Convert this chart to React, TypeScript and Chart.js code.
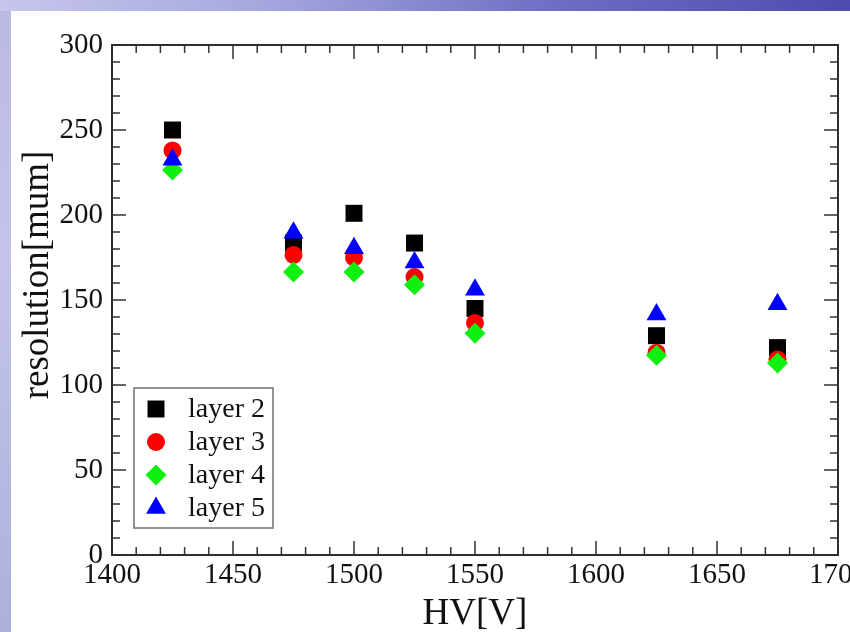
import React, { useEffect, useRef } from "react";
import { Chart, registerables } from "chart.js";

Chart.register(...registerables);

// ---- data ----
const hvValues = [1425, 1475, 1500, 1525, 1550, 1625, 1675];
const layer2 = [250, 183.5, 201, 183.5, 145, 129, 122];
const layer3 = [238, 176.5, 175, 163.5, 136.5, 119, 115];
const layer4 = [226.5, 166.5, 166.5, 159, 130.5, 117.5, 113];
const layer5 = [232.5, 189.5, 180.5, 172, 156, 141.5, 147.5];
const seriesLabels = ["layer 2", "layer 3", "layer 4", "layer 5"];
const xTitle = "HV[V]";
const yTitle = "resolution[mum]";
const xRange = [1400, 1700];
const yRange = [0, 300];
const majorStep = { x: 50, y: 50 };
const minorStep = { x: 10, y: 10 };

const FONT = "'Liberation Serif', 'DejaVu Serif', serif";

const styles = [
  { style: "rect", color: "#000000", radius: 12 },
  { style: "circle", color: "#ff0000", radius: 9 },
  { style: "rectRot", color: "#10f010", radius: 10.5 },
  { style: "triangle", color: "#0000ff", radius: 11.5 },
];

function drawMarker(ctx: CanvasRenderingContext2D, style: string, x: number, y: number, r: number) {
  ctx.beginPath();
  if (style === "rect") {
    const s = Math.SQRT1_2 * r;
    ctx.rect(x - s, y - s, 2 * s, 2 * s);
  } else if (style === "circle") {
    ctx.arc(x, y, r, 0, Math.PI * 2);
  } else if (style === "rectRot") {
    ctx.moveTo(x - r, y);
    ctx.lineTo(x, y - r);
    ctx.lineTo(x + r, y);
    ctx.lineTo(x, y + r);
    ctx.closePath();
  } else {
    let a = 0;
    ctx.moveTo(x + Math.sin(a) * r, y - Math.cos(a) * r);
    a += (2 * Math.PI) / 3;
    ctx.lineTo(x + Math.sin(a) * r, y - Math.cos(a) * r);
    a += (2 * Math.PI) / 3;
    ctx.lineTo(x + Math.sin(a) * r, y - Math.cos(a) * r);
    ctx.closePath();
  }
  ctx.fill();
}

const framePlugin = {
  id: "framePlugin",
  afterDatasetsDraw(chart: any) {
    const { ctx, chartArea: a, scales } = chart;
    const xs = scales.x;
    const ys = scales.y;
    ctx.save();
    ctx.strokeStyle = "#333333";
    ctx.lineWidth = 1.5;
    ctx.beginPath();
    for (let v = xRange[0]; v <= xRange[1]; v += minorStep.x) {
      const px = xs.getPixelForValue(v);
      const len = (v - xRange[0]) % majorStep.x === 0 ? 14 : 8;
      ctx.moveTo(px, a.bottom);
      ctx.lineTo(px, a.bottom - len);
      ctx.moveTo(px, a.top);
      ctx.lineTo(px, a.top + len);
    }
    for (let v = yRange[0]; v <= yRange[1]; v += minorStep.y) {
      const py = ys.getPixelForValue(v);
      const len = (v - yRange[0]) % majorStep.y === 0 ? 14 : 8;
      ctx.moveTo(a.left, py);
      ctx.lineTo(a.left + len, py);
      ctx.moveTo(a.right, py);
      ctx.lineTo(a.right - len, py);
    }
    ctx.stroke();
    ctx.lineWidth = 2;
    ctx.strokeStyle = "#2e2e2e";
    ctx.strokeRect(a.left, a.top, a.right - a.left, a.bottom - a.top);

    // y title
    ctx.fillStyle = "#111111";
    ctx.font = `37px ${FONT}`;
    ctx.textAlign = "center";
    ctx.textBaseline = "middle";
    ctx.translate(38, 275);
    ctx.rotate(-Math.PI / 2);
    ctx.fillText(yTitle, 0, 0);
    ctx.restore();

    // legend
    ctx.save();
    const bx = 134, by = 388, bw = 139, bh = 140;
    ctx.fillStyle = "#ffffff";
    ctx.fillRect(bx, by, bw, bh);
    ctx.strokeStyle = "#707070";
    ctx.lineWidth = 1.5;
    ctx.strokeRect(bx, by, bw, bh);
    ctx.font = `28px ${FONT}`;
    ctx.textAlign = "left";
    ctx.textBaseline = "middle";
    chart.data.datasets.forEach((ds: any, i: number) => {
      const cy = 409 + i * 33;
      ctx.fillStyle = ds.backgroundColor;
      drawMarker(ctx, ds.pointStyle, 156, cy, ds.pointRadius);
      ctx.fillStyle = "#111111";
      ctx.fillText(ds.label, 188, cy + 1);
    });
    ctx.restore();
  },
};

export default function App() {
  const canvasRef = useRef<HTMLCanvasElement | null>(null);

  useEffect(() => {
    if (!canvasRef.current) return;
    const seriesValues = [layer2, layer3, layer4, layer5];
    const datasets = seriesValues.map((vals, i) => ({
      label: seriesLabels[i],
      data: hvValues.map((x, j) => ({ x, y: vals[j] })),
      pointStyle: styles[i].style,
      pointRadius: styles[i].radius,
      backgroundColor: styles[i].color,
      borderColor: styles[i].color,
      borderWidth: 0,
      showLine: false,
      order: 4 - i,
    }));
    const chart = new Chart(canvasRef.current, {
      type: "scatter",
      data: { datasets },
      options: {
        animation: false,
        responsive: false,
        devicePixelRatio: 1,
        layout: { padding: { top: 45, right: 12, left: 0, bottom: 0 } },
        plugins: { legend: { display: false }, tooltip: { enabled: false } },
        scales: {
          x: {
            type: "linear",
            min: xRange[0],
            max: xRange[1],
            grid: { display: false, drawTicks: false },
            border: { display: false },
            ticks: {
              stepSize: majorStep.x,
              color: "#111111",
              font: { family: FONT, size: 29 },
              padding: 3,
              maxRotation: 0,
              autoSkip: false,
              callback: (v: any) => String(v),
            },
            title: {
              display: true,
              text: xTitle,
              color: "#111111",
              font: { family: FONT, size: 37 },
              padding: { top: 0, bottom: -4 },
            },
            afterFit: (s: any) => {
              s.height = 77;
              s.paddingLeft = 0;
              s.paddingRight = 0;
            },
          },
          y: {
            type: "linear",
            min: yRange[0],
            max: yRange[1],
            grid: { display: false, drawTicks: false },
            border: { display: false },
            ticks: {
              stepSize: majorStep.y,
              color: "#111111",
              font: { family: FONT, size: 29 },
              padding: 9,
              callback: (v: any) => String(v),
            },
            afterFit: (s: any) => {
              s.width = 112;
              s.paddingTop = 0;
              s.paddingBottom = 0;
            },
          },
        },
      },
      plugins: [framePlugin],
    } as any);
    return () => chart.destroy();
  }, []);

  return (
    <div
      style={{
        position: "absolute",
        left: 0,
        top: 0,
        width: 850,
        height: 632,
        overflow: "hidden",
        background: "linear-gradient(180deg, #b9b9e2 0%, #c4c4ea 40%, #aeb0da 100%)",
      }}
    >
      <div
        style={{
          position: "absolute",
          left: 0,
          top: 0,
          width: 850,
          height: 11,
          background: "linear-gradient(90deg, #c6c6ec 0%, #a8a8de 30%, #6e6ec4 65%, #4c4cae 100%)",
        }}
      />
      <div
        style={{
          position: "absolute",
          left: 11,
          top: 11,
          right: 0,
          bottom: 0,
          background: "#ffffff",
        }}
      />
      <canvas
        ref={canvasRef}
        width={850}
        height={632}
        style={{ position: "absolute", left: 0, top: 0, width: 850, height: 632 }}
      />
    </div>
  );
}
